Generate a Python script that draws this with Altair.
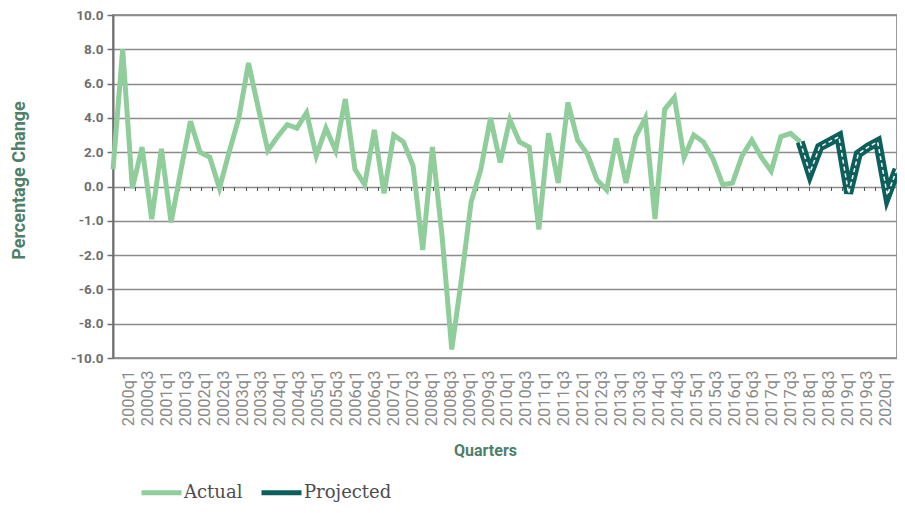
import json
import altair as alt
import pandas as pd

# Category labels: 2000q1 ... 2020q2
quarters = [f"{y}q{q}" for y in range(2000, 2021) for q in range(1, 5)][:82]

# Actual series, 2000q1 ... 2017q4 (values as positioned on the chart's linear scale)
actual_values = [
    1.0, 8.0, -0.1, 2.3, -1.9, 2.2, -2.1, 0.9, 3.8, 2.0,
    1.7, -0.1, 2.0, 4.0, 7.2, 4.6, 2.1, 2.9, 3.6, 3.4,
    4.3, 1.8, 3.4, 2.1, 5.1, 1.0, 0.1, 3.3, -0.4, 3.0,
    2.6, 1.2, -3.7, 2.3, -2.9, -9.5, -5.4, -0.9, 1.0, 4.0,
    1.4, 3.9, 2.6, 2.3, -2.5, 3.1, 0.2, 4.9, 2.7, 1.9,
    0.4, -0.2, 2.8, 0.2, 2.9, 4.0, -1.9, 4.5, 5.2, 1.7,
    3.0, 2.6, 1.6, 0.1, 0.2, 1.8, 2.7, 1.7, 0.9, 2.9,
    3.1, 2.6,
]
# Projected series, 2017q4 ... 2020q2
projected_values = [2.6, 0.8, 2.3, 2.6, 2.9, -0.4, 1.9, 2.3, 2.6, -0.5, 1.0]

series_names = ["Actual", "Projected"]
series_colors = ["#8fcd9b", "#0c5f5b"]

# y tick values and the texts printed at them
y_ticks = [10, 8, 6, 4, 2, 0, -2, -4, -6, -8, -10]
y_tick_texts = ["10.0", "8.0", "6.0", "4.0", "2.0", "0.0", "-1.0", "-2.0", "-6.0", "-8.0", "-10.0"]

n_act = len(actual_values)
actual_df = pd.DataFrame({
    "quarter": quarters[:n_act],
    "value": actual_values,
    "series": "Actual",
    "idx": list(range(n_act)),
})
proj_df = pd.DataFrame({
    "quarter": quarters[n_act - 1:n_act - 1 + len(projected_values)],
    "value": projected_values,
    "series": "Projected",
})

y_label_expr = " : ".join(
    f"datum.value == {v} ? '{t}'" for v, t in zip(y_ticks, y_tick_texts)
) + " : ''"
x_label_expr = json.dumps(quarters).replace('"', "'") + "[datum.value]"

title_color = "#4f806b"
PLOT_H = 343

x_enc = alt.X(
    "quarter:O",
    sort=quarters,
    scale=alt.Scale(type="point", domain=quarters, padding=0),
    axis=None,
)

y_enc = alt.Y(
    "value:Q",
    scale=alt.Scale(domain=[-10, 10], nice=False, zero=False),
    axis=alt.Axis(
        values=y_ticks,
        labelExpr=y_label_expr,
        labelFont="Roboto",
        labelFontSize=13.5,
        labelFontWeight="bold",
        labelColor="#6e6e6e",
        labelPadding=4,
        tickSize=6,
        tickColor="#707070",
        tickWidth=1.5,
        domainColor="#707070",
        domainWidth=2,
        grid=True,
        gridColor="#8c8c8c",
        gridWidth=1.5,
        title="Percentage Change",
        titleFont="Roboto",
        titleFontSize=18,
        titleFontWeight="bold",
        titleColor=title_color,
        titleAngle=270,
        titleX=-94,
        titleY=165,
        titleAlign="center",
        titleBaseline="middle",
    ),
)

color_enc = alt.Color(
    "series:N",
    scale=alt.Scale(domain=series_names, range=series_colors),
    legend=alt.Legend(
        orient="none",
        legendX=26,
        legendY=455,
        direction="horizontal",
        title=None,
        symbolType="stroke",
        symbolSize=1600,
        symbolStrokeWidth=5,
        labelFont="DejaVu Serif",
        labelFontSize=18,
        labelColor="#4d4d4d",
        labelOffset=0,
        labelLimit=300,
        columnPadding=8,
    ),
)

actual_line = alt.Chart(actual_df).mark_line(strokeWidth=5).encode(
    x=x_enc, y=y_enc, color=color_enc
)
proj_line = alt.Chart(proj_df).mark_line(strokeWidth=9).encode(
    x=x_enc, y=y_enc, color=color_enc
)
proj_dash = alt.Chart(proj_df).mark_line(
    strokeWidth=1.5, color="white", strokeDash=[4, 3]
).encode(x=x_enc, y=y_enc)

lines = alt.layer(actual_line, proj_line, proj_dash)

# category labels under the plot (invisible helper layer carrying the label axis)
quarter_labels = alt.Chart(actual_df).mark_point(opacity=0, clip=True).encode(
    x=alt.X(
        "idx:Q",
        scale=alt.Scale(domain=[-1.64, 81.22], nice=False, zero=False),
        axis=alt.Axis(
            orient="bottom",
            values=list(range(0, len(quarters) - 1, 2)),
            labelExpr=x_label_expr,
            labelAngle=270,
            labelFont="Roboto",
            labelFontSize=16.5,
            labelColor="#8a8a8a",
            labelPadding=12,
            labelFlush=False,
            labelOverlap=False,
            ticks=False,
            domain=False,
            grid=False,
            title="Quarters",
            titleFont="Roboto",
            titleFontSize=16,
            titleFontWeight="bold",
            titleColor=title_color,
            titleX=372,
            titleY=92,
            titleAlign="center",
            titleBaseline="middle",
        ),
    )
)

# small tick marks along the zero line (invisible helper layer carrying its own axis)
zero_ticks = alt.Chart(actual_df).mark_point(opacity=0, clip=True).encode(
    x=alt.X(
        "idx:Q",
        scale=alt.Scale(domain=[0, 71], nice=False, zero=False),
        axis=alt.Axis(
            orient="bottom",
            offset=-PLOT_H / 2,
            values=list(range(0, 72)),
            labels=False,
            domain=False,
            grid=False,
            tickSize=4,
            tickColor="#555555",
            tickWidth=1,
            title=None,
        ),
    )
)

chart = (
    alt.layer(lines, quarter_labels, zero_ticks)
    .resolve_scale(x="independent")
    .properties(
        width=784,
        height=PLOT_H,
        autosize=alt.AutoSizeParams(type="none"),
        padding={"left": 105, "top": 7, "right": 0, "bottom": 147},
        background="white",
    )
    .configure_view(stroke="#9a9a9a", strokeWidth=2)
)

chart.save("out.html", embed_options={"renderer": "svg", "actions": False})
